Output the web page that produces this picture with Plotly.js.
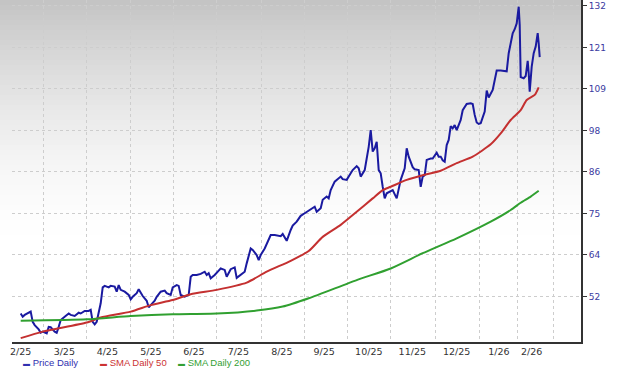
<!DOCTYPE html>
<html><head><meta charset="utf-8">
<script src="https://cdn.plot.ly/plotly-3.0.1.min.js"></script>
<style>html,body{margin:0;padding:0;background:#fff}#chart{width:620px;height:372px}</style>
</head><body><div id="chart"></div>
<script>
// ---- data (session index from first plotted day) ----
const priceDay = [0,1,2,4,5,6,7,9,10,11,13,14,15,17,18,19,20,22,24,25,27,29,30,32,34,35,36,37,38,40,41,42,44,45,47,48,49,50,52,54,55,56,58,59,60,61,63,64,65,67,68,70,72,73,75,76,78,79,80,82,84,85,86,88,90,92,93,94,95,97,99,100,102,103,105,106,107,108,110,112,113,114,115,116,118,119,120,122,124,125,127,130,131,133,135,136,138,140,142,143,145,147,148,150,151,153,154,155,157,159,160,161,163,165,166,168,169,170,172,173,174,175,176,177,178,179,180,181,182,183,185,186,188,189,190,192,193,194,196,197,199,200,201,202,203,205,206,208,209,210,211,212,213,214,215,216,217,218,219,220,221,223,225,226,227,228,229,230,231,232,233,234,236,237,238,240,243,244,245,246,247,248,249,249.5,250,251.5,252.5,253.5,254,254.5,255.5,256.5,257.5,258.5,259,259.5];
const price = [47.3,46.4,46.9,47.5,47.8,45.0,44.1,42.9,42.0,42.3,41.8,43.6,43.5,42.3,42.0,43.6,45.5,46.4,47.3,46.9,46.6,47.5,47.3,48.0,48.0,48.3,45.0,44.3,45.0,50.1,54.5,54.9,54.5,54.9,54.7,53.3,55.1,53.8,53.3,52.4,51.2,51.9,52.9,54.0,52.9,52.1,50.8,49.0,49.6,50.8,51.9,53.3,53.6,52.9,52.4,54.5,55.1,54.9,52.4,51.9,52.4,57.4,57.9,57.9,58.2,58.8,57.9,58.4,57.0,57.9,59.1,59.7,59.3,57.4,59.5,59.7,60.0,57.1,57.9,58.8,61.1,62.9,65.2,64.8,63.4,62.0,63.4,65.2,67.5,68.9,68.9,68.6,69.2,67.3,70.3,71.5,72.6,74.2,74.9,75.3,76.0,76.7,75.3,76.3,78.6,79.5,79.0,81.3,83.6,84.5,85.0,84.3,84.1,85.9,86.8,87.9,87.3,85.0,86.8,90.0,93.2,97.8,91.9,92.8,94.6,86.8,85.9,82.2,79.0,80.4,81.1,81.3,79.0,81.3,84.1,87.3,92.8,90.5,87.6,87.0,86.8,82.2,85.0,85.4,89.6,90.0,90.0,91.6,90.5,90.5,89.5,89.1,93.7,95.1,98.9,98.3,99.2,97.8,99.5,100.6,103.3,105.0,105.2,105.0,102.0,99.9,99.5,99.7,101.3,102.9,108.7,106.8,108.9,111.2,114.2,114.2,114.0,119.0,121.7,124.5,125.6,127.2,131.8,126.8,112.4,112.1,112.7,116.9,113.5,108.4,115.3,119.0,120.8,124.5,121.7,117.9];

const sma50Day = [0,11,33,40,55,65,76,85,98,113,123,135,144,151,160,168,176,181,185,193,201,210,218,226,235,240,245,250,253,257,259];
const sma50 = [40.5,42.3,44.8,46.2,47.8,49.6,51.0,52.6,53.8,55.8,58.8,61.8,64.5,68.4,71.7,75.3,79.0,81.3,82.2,84.1,85.4,86.6,88.7,90.5,93.9,96.9,100.6,103.3,106.1,107.5,109.6];

const sma200Day = [0,33,55,76,98,118,131,144,168,185,201,218,235,245,250,255,259];
const sma200 = [45.3,45.7,46.6,47.1,47.3,48.1,49.2,51.5,56.5,59.7,63.9,68.0,72.6,75.8,77.8,79.5,81.1];

const monthLabels = ['2/25','3/25','4/25','5/25','6/25','7/25','8/25','9/25','10/25','11/25','12/25','1/26','2/26'];
const monthLabelDay = [0,21.8,43.3,65.15,86.65,108.8,130.55,151.7,174.05,195.8,218,239.15,255.5];
const gridDay = [11.3,33,54.65,76.15,98,120.15,141.8,163.55,184.9,207.15,229.15,248.3,266.3];

const yTickVals = [52,63.43,74.86,86.29,97.71,109.14,120.57,132];
const yTickLabels = ['52','64','75','86','98','109','121','132'];

const seriesNames = ['Price Daily','SMA Daily 50','SMA Daily 200'];

// ---- styles ----
const lineColors = ['#1a1aa0','#c43030','#30a030'];
const legendColors = ['#3030b0','#cc3333','#33a033'];

const traces = [
  {x: priceDay, y: price, name: seriesNames[0], mode:'lines', line:{color:lineColors[0], width:2}},
  {x: sma50Day, y: sma50, name: seriesNames[1], mode:'lines', line:{color:lineColors[1], width:2, shape:'spline', smoothing:0.6}},
  {x: sma200Day, y: sma200, name: seriesNames[2], mode:'lines', line:{color:lineColors[2], width:2, shape:'spline', smoothing:0.6}}
];

// background gradient bands (decoration)
const shapes = [];
const H = 342, G = 250, N = 50;
for (let i = 0; i < N; i++) {
  const y0 = i*G/N, y1 = (i+1)*G/N + 0.6;
  const c = Math.round(255 - 60*Math.pow(1 - (i+0.5)/N, 1.68));
  shapes.push({type:'rect', xref:'paper', yref:'paper', x0:-0.022, x1:1, y0:1 - y1/H, y1:1 - y0/H,
    fillcolor:`rgb(${c},${c},${c})`, line:{width:0}, layer:'below'});
}

const legendX = [0.0158, 0.151, 0.288];
const annotations = seriesNames.map((n, i) => ({
  xref:'paper', yref:'paper', x: legendX[i], y: -0.0614, xanchor:'left', yanchor:'middle',
  showarrow:false,
  text: `<span style="font-size:7px">▬</span> ${n}`,
  font:{family:'Liberation Sans, Arial, sans-serif', size:9.5, color:legendColors[i]}
}));

const layout = {
  width:620, height:372,
  margin:{l:12, r:39, t:0, b:30, pad:0},
  paper_bgcolor:'#ffffff', plot_bgcolor:'rgba(0,0,0,0)',
  showlegend:false,
  shapes, annotations,
  xaxis:{
    range:[-4.35, 280.15], tickmode:'array', tickvals:monthLabelDay, ticktext:monthLabels,
    showgrid:false, zeroline:false, showline:true, linecolor:'#333333', linewidth:2, ticks:'',
    tickfont:{family:'DejaVu Sans, Verdana, sans-serif', size:9.5, color:'#333333'},
    minor:{tickmode:'array', tickvals:gridDay, showgrid:true, gridcolor:'#cdcdcd', griddash:'dot', gridwidth:1, ticks:''}
  },
  yaxis:{
    side:'right', range:[39.44, 133.65], tickmode:'array', tickvals:yTickVals, ticktext:yTickLabels,
    showgrid:true, gridcolor:'#cdcdcd', griddash:'dot', gridwidth:1, zeroline:false,
    showline:true, linecolor:'#333333', linewidth:2, ticks:'outside', ticklen:4, tickcolor:'#333333', tickwidth:1,
    tickfont:{family:'DejaVu Sans, Verdana, sans-serif', size:9, color:'#3a3aa0'}
  }
};

Plotly.newPlot('chart', traces, layout, {displayModeBar:false, staticPlot:true});
</script>
</body></html>
